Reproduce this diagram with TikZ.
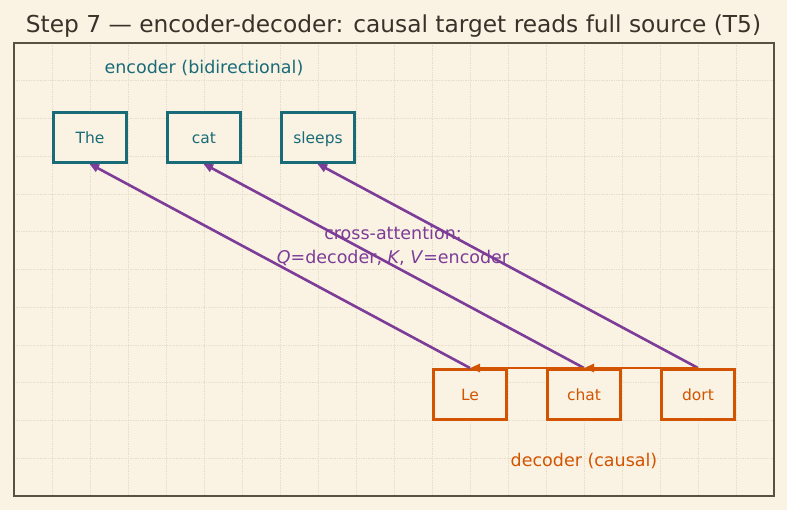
\documentclass[tikz,border=0pt]{standalone}
\usepackage{fontspec}
\setmainfont{DejaVu Sans}
\usepackage{xcolor}
\usetikzlibrary{positioning, arrows.meta}

\definecolor{paper}{HTML}{FAF3E3}
\definecolor{ink}{HTML}{3B3129}
\definecolor{frame}{HTML}{5A5041}
\definecolor{gridc}{HTML}{E6DDCB}
\definecolor{enccol}{HTML}{1A6B78}
\definecolor{deccol}{HTML}{D35400}
\definecolor{attcol}{HTML}{7D3C98}

\begin{document}
\begin{tikzpicture}[x=1pt, y=-1pt, >={Triangle[length=10pt, width=8pt]}, node distance=38pt,
        tok/.style={rectangle, draw, fill=paper, line width=3pt, minimum width=73pt,
                    minimum height=50pt, inner sep=0pt, text height=13pt, text depth=1.5pt,
                    font=\fontsize{15.5}{18}\selectfont},
        enc/.style={tok, draw=enccol, text=enccol},
        dec/.style={tok, draw=deccol, text=deccol},
        cross/.style={->, draw=attcol, line width=2.6pt, shorten >=-1pt},
        causal/.style={->, draw=deccol, line width=2.6pt},
        lbl/.style={font=\fontsize{17.5}{24}\selectfont, align=center}]
        % page and frame
        \fill[paper] (0,0) rectangle (787,510);
        \useasboundingbox (0,0) rectangle (787,510);
        \foreach \gx in {52,90,...,740}
            \draw[gridc, densely dotted, line width=0.7pt] (\gx,43) -- (\gx,496);
        \foreach \gy in {80.75,118.5,...,470}
            \draw[gridc, densely dotted, line width=0.7pt] (14,\gy) -- (774,\gy);
        \draw[frame, line width=2pt] (14,43) rectangle (774,496);

        \node[font=\fontsize{23.3}{26}\selectfont, text=ink] (title) at (393.5,26)
            {Step 7 — encoder-decoder: causal target reads full source (T5)};

        % encoder tokens
        \node[enc] (the) at (90,137.5) {The};
        \node[enc, right=of the] (cat) {cat};
        \node[enc, right=of cat] (sleeps) {sleeps};
        \node[lbl, text=enccol] (enclbl) at (204,68) {encoder (bidirectional)};

        % decoder tokens
        \node[dec] (le) at (470,394.5) {Le};
        \node[dec, right=of le] (chat) {chat};
        \node[dec, right=of chat] (dort) {dort};
        \node[lbl, text=deccol, below=29pt of chat] (declbl) {decoder (causal)};

        \node[lbl, text=attcol] (attlbl) at (393,246)
            {cross-attention:\\\textit{Q}=decoder, \textit{K}, \textit{V}=encoder};

        \draw[cross] (le.north) -- (the.south);
        \draw[cross] (chat.north) -- (cat.south);
        \draw[cross] (dort.north) -- (sleeps.south);

        \draw[causal] (dort.north) -- (chat.north);
        \draw[causal] (chat.north) -- (le.north);
    \end{tikzpicture}
\end{document}
